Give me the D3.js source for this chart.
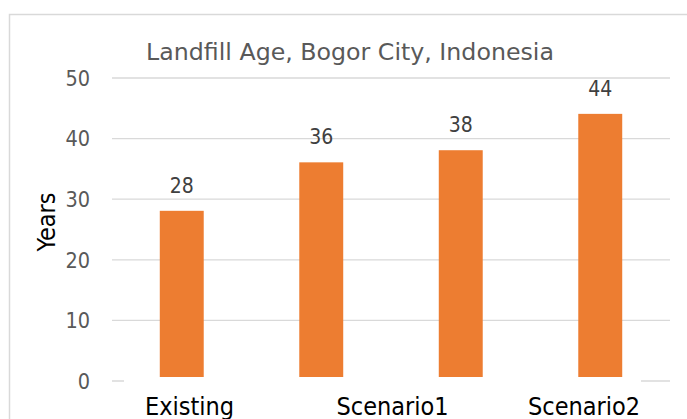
<!DOCTYPE html>
<html><head><meta charset="utf-8">
<script src="https://cdn.jsdelivr.net/npm/d3@7"></script>
<style>html,body{margin:0;padding:0;background:#fff;overflow:hidden}</style>
</head><body>
<script>
const title = "Landfill Age, Bogor City, Indonesia";
const yTitle = "Years";
const categories = ["Existing", "Scenario1", "Scenario2", "Scenario3"];
const values = [28, 36, 38, 44];
const axisLabels = ["Existing", "Scenario1", "Scenario2"];
const yTicks = [0, 10, 20, 30, 40, 50];

(function () {
const W = 687, H = 419;
const font = "'DejaVu Sans Condensed', 'DejaVu Sans', sans-serif";
const fontWide = "'DejaVu Sans', sans-serif";
const svg = d3.select("body").append("svg").attr("width", W).attr("height", H);

// frame
svg.append("path").attr("d", `M9.5,${H + 2} V14.5 H${W + 2}`)
  .attr("fill", "none").attr("stroke", "#d9d9d9").attr("stroke-width", 1.5);

const pLeft = 112, pRight = 670, pTop = 77.5, pBottom = 380.5;
const x = d3.scaleBand().domain(categories).range([pLeft, pRight]).paddingInner(0.685).paddingOuter(0.3425);
const y = d3.scaleLinear().domain([0, 50]).range([pBottom, pTop]);

// gridlines + tick labels
const yAxis = d3.axisLeft(y).tickValues(yTicks).tickSize(-(pRight - pLeft)).tickPadding(22).tickFormat(d3.format("d"));
const gy = svg.append("g").attr("transform", `translate(${pLeft},0)`).call(yAxis);
gy.select(".domain").remove();
gy.selectAll(".tick line").attr("stroke", "#d9d9d9").attr("stroke-width", 1.3);
gy.selectAll(".tick text").attr("fill", "#595959").style("font-family", font).style("font-size", "21.5px").attr("dy", "0.36em");

// bars
svg.append("g").selectAll("rect").data(values).join("rect")
  .attr("x", (d, i) => x(categories[i]))
  .attr("width", x.bandwidth())
  .attr("y", d => y(d))
  .attr("height", d => y(0) - y(d))
  .attr("fill", "#ED7D31");

// data labels
svg.append("g").selectAll("text").data(values).join("text")
  .attr("x", (d, i) => x(categories[i]) + x.bandwidth() / 2)
  .attr("y", d => y(d) - 18)
  .attr("text-anchor", "middle")
  .attr("fill", "#404040")
  .style("font-family", font).style("font-size", "21px")
  .text(d => d);

// category label area (white box hides baseline)
svg.append("rect").attr("x", 124).attr("y", 377).attr("width", 517).attr("height", H - 377).attr("fill", "#fff");

const xl = d3.scalePoint().domain(axisLabels).range([145, 528]);
svg.append("g").selectAll("text").data(axisLabels).join("text")
  .attr("x", d => xl(d))
  .attr("y", 415)
  .attr("text-anchor", "start")
  .attr("fill", "#000")
  .style("font-family", font).style("font-size", "25px")
  .text(d => d);

// title
svg.append("text").attr("x", 350).attr("y", 59.5).attr("text-anchor", "middle")
  .attr("fill", "#595959").style("font-family", fontWide).style("font-size", "23.7px").text(title);

// y title
svg.append("text").attr("transform", "translate(55,222) rotate(-90)").attr("text-anchor", "middle")
  .attr("fill", "#000").style("font-family", font).style("font-size", "25px").text(yTitle);
})();
</script>
</body></html>
